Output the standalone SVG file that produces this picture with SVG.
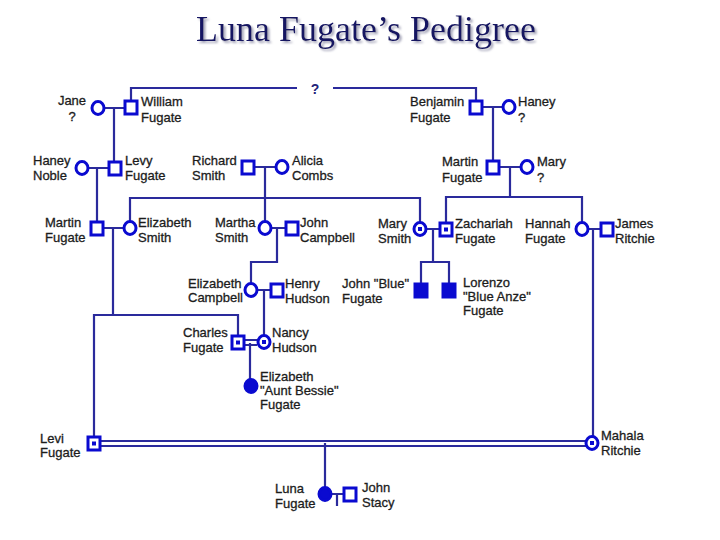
<svg xmlns="http://www.w3.org/2000/svg" width="720" height="540" viewBox="0 0 720 540">
<defs>
<filter id="shadow" x="-5%" y="-30%" width="110%" height="160%">
<feDropShadow dx="2" dy="2" stdDeviation="1" flood-color="#9a9ab0" flood-opacity="0.9"/>
</filter>
</defs>
<style>
.sym{fill:#ffffff;stroke:#0a0ad0;stroke-width:3}
.aff{fill:#0a0ad0;stroke:#0a0ad0;stroke-width:3}
.dot{fill:#0a0ad0;stroke:none}
.ln{fill:none;stroke:#2a2a9c;stroke-width:2.2}
.lb{font-family:"Liberation Sans",Arial,sans-serif;font-size:13px;fill:#1c1c1c;stroke:#1c1c1c;stroke-width:0.3}
.title{font-family:"Liberation Serif","Times New Roman",serif;font-size:36px}
</style>
<rect width="720" height="540" fill="#ffffff"/>
<text class="title" x="366" y="41" text-anchor="middle" fill="#121262" filter="url(#shadow)">Luna Fugate’s Pedigree</text>

<g id="connectors">
<path class="ln" d="M131,100 V88 H297 M333,88 H476 V100"/>
<path class="ln" d="M104,108 H125 M114,108 V161"/>
<path class="ln" d="M88,168 H108 M97,168 V221"/>
<path class="ln" d="M255,167 H276 M265,167 V221"/>
<path class="ln" d="M130,221 V198 H420 V222"/>
<path class="ln" d="M104,228 H124 M113,228 V315"/>
<path class="ln" d="M94,436 V315 H238 V335"/>
<path class="ln" d="M271,228 H285 M277,228 V262 H251 V283"/>
<path class="ln" d="M483,107 H503 M493,107 V160"/>
<path class="ln" d="M500,167 H521 M510,167 V197"/>
<path class="ln" d="M446,222 V197 H582 V222"/>
<path class="ln" d="M426,229 H439 M433,229 V262"/>
<path class="ln" d="M421,283 V262 H449 V283"/>
<path class="ln" d="M588,229 H600 M593,229 V436"/>
<path class="ln" d="M257,290 H270 M264,290 V335"/>
<path class="ln" d="M245,340 H257 M245,345 H257 M250,343 V379"/>
<path class="ln" d="M101,441 H586 M101,446 H586 M325,443 V487"/>
<path class="ln" d="M332,494 H343 M337,494 V506"/>
<text x="315" y="94" text-anchor="middle" font-family="Liberation Sans,Arial,sans-serif" font-size="14" font-weight="bold" fill="#24247a">?</text>
</g>

<g id="jane"><ellipse class="sym" cx="98" cy="108" rx="6" ry="6.5"/><text class="lb" x="72" y="105" text-anchor="middle">Jane</text><text class="lb" x="72" y="121" text-anchor="middle">?</text></g>
<g id="william"><rect class="sym" x="125" y="101" width="12" height="13"/><text class="lb" x="141" y="106">William</text><text class="lb" x="141" y="122">Fugate</text></g>
<g id="haney-noble"><ellipse class="sym" cx="82" cy="168" rx="6" ry="6.5"/><text class="lb" x="33" y="165">Haney</text><text class="lb" x="33" y="180">Noble</text></g>
<g id="levy"><rect class="sym" x="109" y="162" width="12" height="13"/><text class="lb" x="125" y="165">Levy</text><text class="lb" x="125" y="180">Fugate</text></g>
<g id="richard"><rect class="sym" x="242" y="161" width="12" height="13"/><text class="lb" x="192" y="165">Richard</text><text class="lb" x="192" y="180">Smith</text></g>
<g id="alicia"><ellipse class="sym" cx="282" cy="167" rx="6" ry="6.5"/><text class="lb" x="292" y="165">Alicia</text><text class="lb" x="292" y="180">Combs</text></g>
<g id="martin-l"><rect class="sym" x="91" y="222" width="12" height="13"/><text class="lb" x="45" y="227">Martin</text><text class="lb" x="45" y="242">Fugate</text></g>
<g id="elizabeth-smith"><ellipse class="sym" cx="130" cy="228" rx="6" ry="6.5"/><text class="lb" x="138" y="227">Elizabeth</text><text class="lb" x="138" y="242">Smith</text></g>
<g id="martha"><ellipse class="sym" cx="265" cy="228" rx="6" ry="6.5"/><text class="lb" x="215" y="227">Martha</text><text class="lb" x="215" y="242">Smith</text></g>
<g id="john-campbell"><rect class="sym" x="286" y="222" width="12" height="13"/><text class="lb" x="300" y="227">John</text><text class="lb" x="300" y="242">Campbell</text></g>
<g id="benjamin"><rect class="sym" x="470" y="101" width="12" height="13"/><text class="lb" x="410" y="106">Benjamin</text><text class="lb" x="410" y="122">Fugate</text></g>
<g id="haney-q"><ellipse class="sym" cx="509" cy="107" rx="6" ry="6.5"/><text class="lb" x="518" y="106">Haney</text><text class="lb" x="518" y="122">?</text></g>
<g id="martin-r"><rect class="sym" x="487" y="161" width="12" height="13"/><text class="lb" x="442" y="166">Martin</text><text class="lb" x="442" y="182">Fugate</text></g>
<g id="mary-q"><ellipse class="sym" cx="527" cy="167" rx="6" ry="6.5"/><text class="lb" x="537" y="166">Mary</text><text class="lb" x="537" y="182">?</text></g>
<g id="mary-smith"><ellipse class="sym" cx="420" cy="229" rx="6" ry="6.5"/><rect class="dot" x="418" y="227" width="4" height="4"/><text class="lb" x="378" y="228">Mary</text><text class="lb" x="378" y="243">Smith</text></g>
<g id="zachariah"><rect class="sym" x="440" y="223" width="12" height="13"/><rect class="dot" x="444" y="227.5" width="4" height="4"/><text class="lb" x="455" y="228">Zachariah</text><text class="lb" x="455" y="243">Fugate</text></g>
<g id="hannah"><ellipse class="sym" cx="582" cy="229" rx="6" ry="6.5"/><text class="lb" x="525" y="228">Hannah</text><text class="lb" x="525" y="243">Fugate</text></g>
<g id="james"><rect class="sym" x="601" y="223" width="12" height="13"/><text class="lb" x="615" y="228">James</text><text class="lb" x="615" y="243">Ritchie</text></g>
<g id="elizabeth-campbell"><ellipse class="sym" cx="251" cy="290" rx="6" ry="6.5"/><text class="lb" x="188" y="288">Elizabeth</text><text class="lb" x="188" y="302">Campbell</text></g>
<g id="henry"><rect class="sym" x="271" y="284" width="12" height="13"/><text class="lb" x="285" y="288">Henry</text><text class="lb" x="285" y="303">Hudson</text></g>
<g id="john-blue"><rect class="aff" x="415" y="284" width="12" height="13"/><text class="lb" x="342" y="288">John "Blue"</text><text class="lb" x="342" y="303">Fugate</text></g>
<g id="lorenzo"><rect class="aff" x="443" y="284" width="12" height="13"/><text class="lb" x="463" y="287">Lorenzo</text><text class="lb" x="463" y="301">"Blue Anze"</text><text class="lb" x="463" y="315">Fugate</text></g>
<g id="charles"><rect class="sym" x="232" y="336" width="12" height="13"/><rect class="dot" x="236" y="340.5" width="4" height="4"/><text class="lb" x="183" y="337">Charles</text><text class="lb" x="183" y="352">Fugate</text></g>
<g id="nancy"><ellipse class="sym" cx="264" cy="342" rx="6" ry="6.5"/><rect class="dot" x="262" y="340" width="4" height="4"/><text class="lb" x="272" y="337">Nancy</text><text class="lb" x="272" y="352">Hudson</text></g>
<g id="aunt-bessie"><ellipse class="aff" cx="251" cy="386" rx="6" ry="6.5"/><text class="lb" x="260" y="381">Elizabeth</text><text class="lb" x="260" y="395">"Aunt Bessie"</text><text class="lb" x="260" y="409">Fugate</text></g>
<g id="levi"><rect class="sym" x="88" y="437" width="12" height="13"/><rect class="dot" x="92" y="441.5" width="4" height="4"/><text class="lb" x="40" y="443">Levi</text><text class="lb" x="40" y="457">Fugate</text></g>
<g id="mahala"><ellipse class="sym" cx="592" cy="443" rx="6" ry="6.5"/><rect class="dot" x="590" y="441" width="4" height="4"/><text class="lb" x="601" y="440">Mahala</text><text class="lb" x="601" y="455">Ritchie</text></g>
<g id="luna"><ellipse class="aff" cx="325" cy="494" rx="6" ry="6.5"/><text class="lb" x="275" y="493">Luna</text><text class="lb" x="275" y="508">Fugate</text></g>
<g id="john-stacy"><rect class="sym" x="344" y="488" width="12" height="13"/><text class="lb" x="362" y="492">John</text><text class="lb" x="362" y="507">Stacy</text></g>
</svg>
